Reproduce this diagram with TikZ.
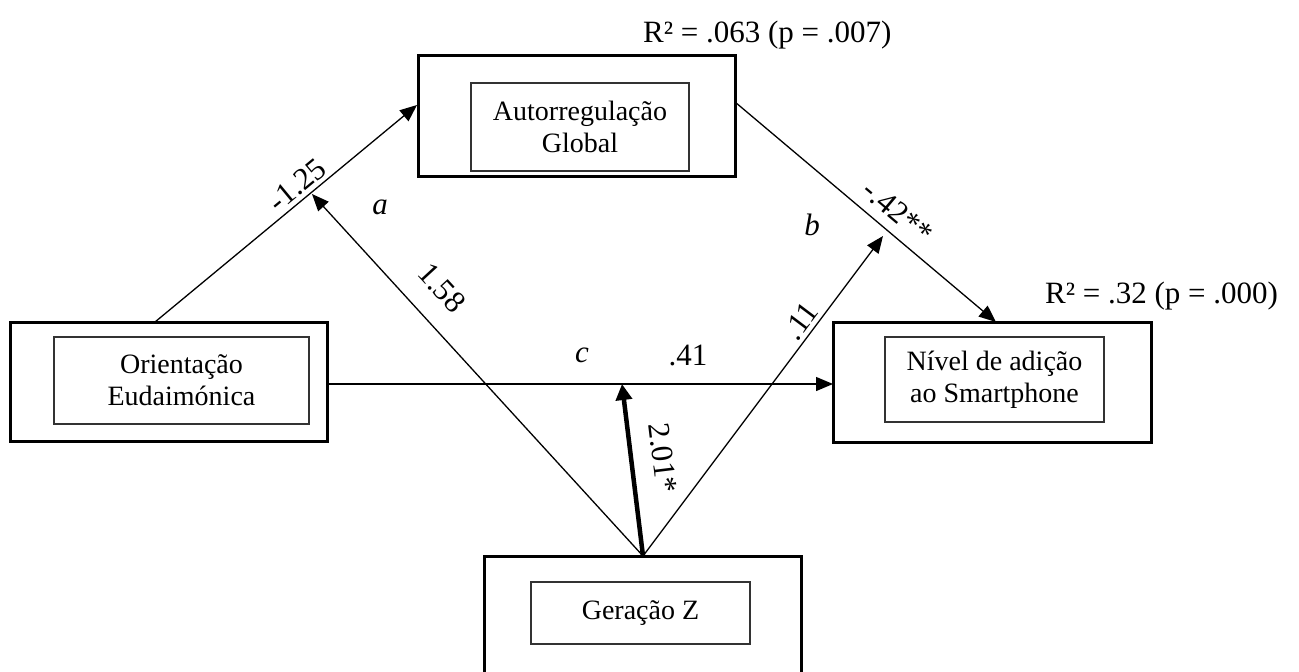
\documentclass[tikz,border=0pt]{standalone}
\usepackage{fontspec}
\setmainfont{Liberation Serif}
\usetikzlibrary{arrows.meta}
\tikzset{
  outerbox/.style={draw=black, line width=3pt, inner sep=0pt},
  innerbox/.style={draw=black!80, line width=1.4pt, inner sep=0pt, align=center,
    font=\fontsize{28}{32}\selectfont},
  conn/.style={line width=1.3pt, -{Triangle[length=17pt,width=14pt]}},
  thickconn/.style={line width=4.5pt, -{Triangle[length=16pt,width=16pt]}},
  lbl/.style={inner sep=0pt, font=\fontsize{31}{35}\selectfont},
  ilbl/.style={inner sep=0pt, font=\fontsize{31}{35}\selectfont\itshape},
}
\begin{document}
\begin{tikzpicture}[x=1pt,y=-1pt]
\clip (0,0) rectangle (1299,672);
\fill[white] (0,0) rectangle (1299,672);

% outer boxes
\node[outerbox, minimum width=317pt, minimum height=121pt] (T) at (576.5,115.5) {};
\node[outerbox, minimum width=317pt, minimum height=119pt] (L) at (168.5,381.5) {};
\node[outerbox, minimum width=318pt, minimum height=120pt] (R) at (992,382) {};
\node[outerbox, minimum width=317pt, minimum height=130pt] (Z) at (642.5,621) {};

% inner boxes
\node[innerbox, minimum width=218pt, minimum height=88pt] (Ti) at (580,127) {Autorregulação\\Global};
\node[innerbox, minimum width=255pt, minimum height=87pt] (Li) at (181.5,380.5) {Orientação\\Eudaimónica};
\node[innerbox, minimum width=219pt, minimum height=85pt] (Ri) at (994.5,379.5) {Nível de adição\\ao Smartphone};
\node[innerbox, minimum width=219pt, minimum height=62pt] (Zi) at (640.5,613) {Geração Z};

% connector points
\coordinate (s1) at (155,322);
\coordinate (e1) at (417,105);
\coordinate (s2) at (735,102);
\coordinate (e2) at (996,322);
\coordinate (s3) at (327,384);
\coordinate (e3) at (833,384);
\coordinate (z0) at (643,556);
\coordinate (p1) at (312,194);
\coordinate (p2) at (883,236);
\coordinate (p3) at (622,384);

\draw[conn] (s1) -- (e1);
\draw[conn] (s2) -- (e2);
\draw[conn] (s3) -- (e3);
\draw[conn] (z0) -- (p1);
\draw[conn] (z0) -- (p2);
\draw[thickconn] (z0) -- (p3);

% labels
\node[lbl, anchor=base west] (r1) at (643,42) {R² = .063 (p = .007)};
\node[lbl, anchor=base west] (r2) at (1045,303) {R² = .32 (p = .000)};
\node[lbl, rotate=39.6] (l1) at (297,185) {-1.25};
\node[ilbl] (la) at (380,207) {a};
\node[lbl, rotate=-47.4] (l2) at (442,288) {1.58};
\node[ilbl] (lb) at (812,225) {b};
\node[lbl, rotate=-40] (l3) at (898,212) {-.42**};
\node[lbl, rotate=53] (l4) at (801,321) {.11};
\node[ilbl] (lc) at (582,355) {c};
\node[lbl] (l5) at (688,355) {.41};
\node[lbl, rotate=-83] (l6) at (663,458) {2.01*};
\end{tikzpicture}
\end{document}
